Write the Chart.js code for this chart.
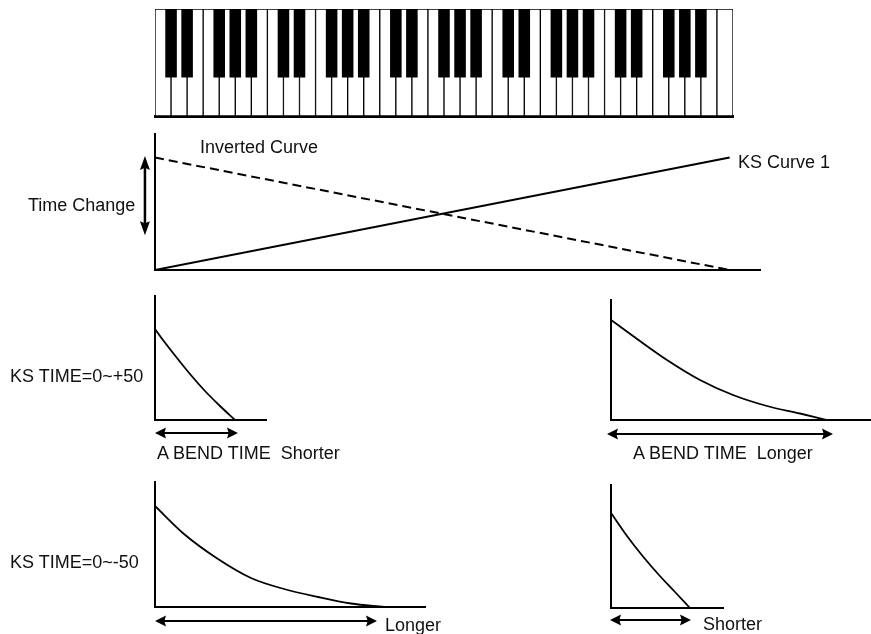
<!DOCTYPE html>
<html>
<head>
<meta charset="utf-8">
<script src="https://cdn.jsdelivr.net/npm/chart.js@4.4.1/dist/chart.umd.min.js"></script>
<style>
html,body{margin:0;padding:0;background:#fff;}
#stage{position:relative;width:871px;height:634px;overflow:hidden;background:#fff;}
#stage canvas{position:absolute;left:0;top:0;}
.lbl{position:absolute;font-family:"Liberation Sans",Arial,Helvetica,sans-serif;font-size:18px;color:#111;white-space:pre;line-height:20px;}
</style>
</head>
<body>
<div id="stage">
  <canvas id="kb" width="871" height="634"></canvas>
  <canvas id="main" width="871" height="634"></canvas>
  <canvas id="s1" width="871" height="634"></canvas>
  <canvas id="s2" width="871" height="634"></canvas>
  <canvas id="s3" width="871" height="634"></canvas>
  <canvas id="s4" width="871" height="634"></canvas>
  <div class="lbl" style="left:200px;top:137px">Inverted Curve</div>
  <div class="lbl" style="left:738px;top:152px">KS Curve 1</div>
  <div class="lbl" style="left:28px;top:195px">Time Change</div>
  <div class="lbl" style="left:10px;top:366px">KS TIME=0~+50</div>
  <div class="lbl" style="left:157px;top:443px">A BEND TIME  Shorter</div>
  <div class="lbl" style="left:633px;top:443px">A BEND TIME  Longer</div>
  <div class="lbl" style="left:10px;top:552px">KS TIME=0~-50</div>
  <div class="lbl" style="left:385px;top:615px">Longer</div>
  <div class="lbl" style="left:703px;top:614px">Shorter</div>
</div>
<script>
// ---------- data ----------
// keyboard (61 keys: 36 white, 25 black), positions in white-key units
const whiteKeyNames = ["C1","D1","E1","F1","G1","A1","B1","C2","D2","E2","F2","G2","A2","B2",
  "C3","D3","E3","F3","G3","A3","B3","C4","D4","E4","F4","G4","A4","B4",
  "C5","D5","E5","F5","G5","A5","B5","C6"];
const blackKeyPos = [1,2,4,5,6, 8,9,11,12,13, 15,16,18,19,20, 22,23,25,26,27, 29,30,32,33,34];
const whiteKeySpan = [0, 1];
const blackKeySpan = [0.36, 1];

// key scaling curves (x = key position, y = time change)
const curveKeys = [0, 36];
const ksCurve1 = [0, 1];
const invertedCurve = [1, 0];
const timeChangeArrowX = -0.63;
const timeChangeArrowY = [0.31, 1.015];

// A BEND decay curves (x = time, y = level)
const shortA_t = [0, 8, 22, 35, 50, 65, 80];
const shortA_v = [91, 80, 62, 46, 29, 14, 0];
const shortA_arrow = [0, 83];

const longA_t = [0, 22, 56, 89, 122, 156, 189, 216];
const longA_v = [100, 84, 60, 40, 25, 14, 6.5, 0];
const longA_arrow = [-4, 222];

const longB_t = [0, 29, 63, 96, 129, 163, 196, 229];
const longB_v = [101, 73, 48, 29, 18, 10, 3.5, 0];
const longB_arrow = [0, 222];

const shortB_t = [0, 16, 32, 48, 64, 79];
const shortB_v = [95, 72, 51.5, 33, 16, 0];
const shortB_arrow = [-1, 80];

// ---------- helpers ----------
const W = 871, H = 634;
function pad(l, t, r, b) { return {left: l, top: t, right: W - r, bottom: H - b}; }
function axis(min, max, showBorder, bw) {
  return {type: 'linear', min: min, max: max, display: true, offset: false,
    grid: {display: false, drawTicks: false}, ticks: {display: false},
    border: {display: showBorder, color: '#000', width: bw}};
}
function pts(xs, ys) { return xs.map((x, i) => ({x: x, y: ys[i]})); }

function drawHead(ctx, x, y, ang, L, hw) {
  const c = Math.cos(ang), s = Math.sin(ang);
  const bx = x - L * c, by = y - L * s;
  ctx.beginPath();
  ctx.moveTo(x, y);
  ctx.lineTo(bx - hw * s, by + hw * c);
  ctx.lineTo(bx + L * 0.15 * c, by + L * 0.15 * s);
  ctx.lineTo(bx + hw * s, by - hw * c);
  ctx.closePath();
  ctx.fill();
}
const arrowPlugin = {
  id: 'arrows',
  afterDatasetsDraw(chart, args, opts) {
    const items = (opts && opts.items) || [];
    const ctx = chart.ctx, xs = chart.scales.x, ys = chart.scales.y;
    ctx.save();
    ctx.strokeStyle = '#000'; ctx.fillStyle = '#000';
    ctx.lineWidth = opts.lineWidth || 2;
    for (const it of items) {
      let x1, y1, x2, y2;
      if (Array.isArray(it.x)) {
        x1 = xs.getPixelForValue(it.x[0]); x2 = xs.getPixelForValue(it.x[1]);
        y1 = y2 = ys.getPixelForValue(it.y);
      } else {
        x1 = x2 = xs.getPixelForValue(it.x);
        y1 = ys.getPixelForValue(it.y[0]); y2 = ys.getPixelForValue(it.y[1]);
      }
      const ang = Math.atan2(y2 - y1, x2 - x1);
      const L = opts.headLength || 11, hw = opts.headWidth || 5;
      const c = Math.cos(ang), s = Math.sin(ang);
      ctx.beginPath();
      ctx.moveTo(x1 + c * L * 0.7, y1 + s * L * 0.7);
      ctx.lineTo(x2 - c * L * 0.7, y2 - s * L * 0.7);
      ctx.stroke();
      drawHead(ctx, x2, y2, ang, L, hw);
      drawHead(ctx, x1, y1, ang + Math.PI, L, hw);
    }
    ctx.restore();
  }
};
const baseOpts = {responsive: false, animation: false, events: []};

// ---------- keyboard ----------
new Chart(document.getElementById('kb'), {
  type: 'bar',
  data: {
    labels: whiteKeyNames,
    datasets: [
      {label: 'Black keys', xAxisID: 'xb', grouped: false,
       data: blackKeyPos.map(p => ({x: p, y: blackKeySpan})),
       backgroundColor: '#000', borderWidth: 0,
       categoryPercentage: 1, barPercentage: 0.72},
      {label: 'White keys', xAxisID: 'x', grouped: false,
       data: whiteKeyNames.map(() => whiteKeySpan),
       backgroundColor: '#fff', borderColor: '#000', borderWidth: 1, borderSkipped: false,
       categoryPercentage: 1, barPercentage: 1}
    ]
  },
  options: Object.assign({}, baseOpts, {
    layout: {padding: pad(155, 9, 733, 116)},
    plugins: {legend: {display: false}, tooltip: {enabled: false}},
    scales: {
      x: {type: 'category', offset: true, grid: {display: false, drawTicks: false, offset: true},
          ticks: {display: false}, border: {display: true, color: '#000', width: 3}},
      xb: {type: 'linear', min: 0, max: 36, offset: false, display: false,
           ticks: {stepSize: 1}, grid: {offset: false}},
      y: {type: 'linear', min: 0, max: 1, display: false}
    }
  })
});

// ---------- main key scaling chart ----------
new Chart(document.getElementById('main'), {
  type: 'line',
  data: {datasets: [
    {label: 'KS Curve 1', data: pts(curveKeys, ksCurve1), borderColor: '#000', borderWidth: 2,
     pointRadius: 0, fill: false},
    {label: 'Inverted Curve', data: pts(curveKeys, invertedCurve), borderColor: '#000', borderWidth: 2,
     borderDash: [9, 5], pointRadius: 0, fill: false}
  ]},
  options: Object.assign({}, baseOpts, {
    layout: {padding: pad(155, 134, 760, 270)},
    plugins: {legend: {display: false}, tooltip: {enabled: false},
      arrows: {items: [{x: timeChangeArrowX, y: timeChangeArrowY}], headLength: 14, headWidth: 5, lineWidth: 2.5}},
    scales: {x: axis(0, 37.9, true, 2), y: axis(0, 1.21, true, 2)}
  }),
  plugins: [arrowPlugin]
});

// ---------- decay charts ----------
function bendChart(id, region, ts, vs, xMax, yMax, arrowSpan, arrowY) {
  new Chart(document.getElementById(id), {
    type: 'line',
    data: {datasets: [{label: 'A BEND', data: pts(ts, vs), borderColor: '#000', borderWidth: 1.8,
      pointRadius: 0, fill: false, cubicInterpolationMode: 'monotone'}]},
    options: Object.assign({}, baseOpts, {
      layout: {padding: pad(region[0], region[1], region[2], region[3])},
      plugins: {legend: {display: false}, tooltip: {enabled: false},
        arrows: {items: [{x: arrowSpan, y: arrowY}], headLength: 11, headWidth: 5.5, lineWidth: 2}},
      scales: {x: axis(0, xMax, true, 2), y: axis(0, yMax, true, 2)}
    }),
    plugins: [arrowPlugin]
  });
}
bendChart('s1', [155, 296, 266, 420], shortA_t, shortA_v, 111, 124, shortA_arrow, -13);
bendChart('s2', [611, 300, 870, 420], longA_t, longA_v, 259, 120, longA_arrow, -14);
bendChart('s3', [155, 482, 425, 607], longB_t, longB_v, 270, 125, longB_arrow, -14);
bendChart('s4', [611, 485, 723, 608], shortB_t, shortB_v, 112, 123, shortB_arrow, -12);
</script>
</body>
</html>
